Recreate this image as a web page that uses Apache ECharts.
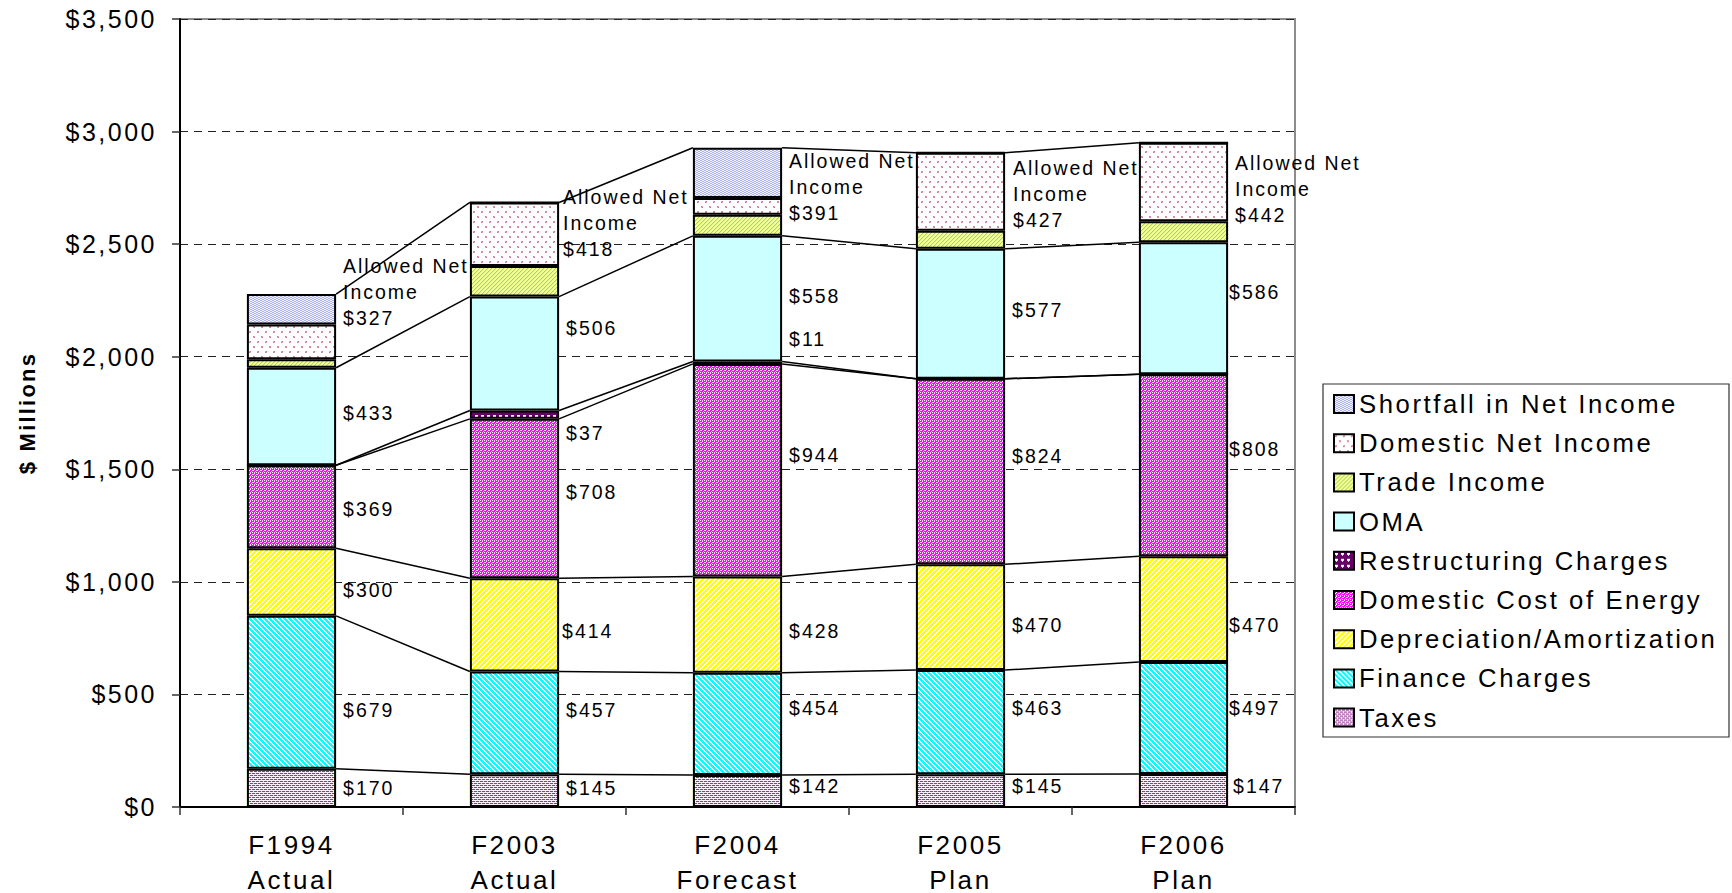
<!DOCTYPE html>
<html>
<head>
<meta charset="utf-8">
<title>Revenue Requirement Components</title>
<script src="https://cdn.jsdelivr.net/npm/echarts@6/dist/echarts.min.js"></script>
<style>
  html, body { margin: 0; padding: 0; background: #ffffff; }
  #chart { width: 1732px; height: 893px; }
  #chart svg text { letter-spacing: 0.1em; }
  #chart svg image { image-rendering: pixelated; }
</style>
</head>
<body>
<div id="chart"></div>
<script>
// ---- data ($ millions) ----
const categories = ['F1994\nActual', 'F2003\nActual', 'F2004\nForecast', 'F2005\nPlan', 'F2006\nPlan'];
const taxes = [170, 145, 142, 145, 147];
const financeCharges = [679, 457, 454, 463, 497];
const depreciation = [300, 414, 428, 470, 470];
const domesticCostOfEnergy = [369, 708, 944, 824, 808];
const restructuringCharges = [0, 37, 11, 0, 0];
const oma = [433, 506, 558, 577, 586];
const tradeIncome = [38, 136, 94, 80, 94];
const domesticNetIncome = [154, 282, 74, 347, 348];
const shortfallInNetIncome = [135, 0, 223, 0, 0];
const yAxisMax = 3500;
const yAxisStep = 500;

const FONT = "'Liberation Sans', Arial, Helvetica, sans-serif";

// ---- fill patterns ----
function tile(w, h, bg, paint) {
  const c = document.createElement('canvas');
  c.width = w; c.height = h;
  const ctx = c.getContext('2d');
  ctx.fillStyle = bg;
  ctx.fillRect(0, 0, w, h);
  for (let y = 0; y < h; y++) {
    for (let x = 0; x < w; x++) {
      const col = paint(x, y);
      if (col) { ctx.fillStyle = col; ctx.fillRect(x, y, 1, 1); }
    }
  }
  return { image: c, repeat: 'repeat', imageWidth: w, imageHeight: h };
}

function inSet(x, y, pts) {
  return pts.some(p => p[0] === x && p[1] === y);
}

const fills = {
  taxes: tile(4, 4, '#fbeefb', (x, y) =>
    (y === 1 && x < 3) || (y === 3 && x !== 1) ? '#993399' : null),
  finance: tile(5, 5, '#ffffff', (x, y) =>
    ((x - y + 10) % 5) < 3 ? '#00ffff' : null),
  depreciation: tile(5, 5, '#ffffff', (x, y) =>
    ((x + y) % 5) < 3 ? '#ffff00' : null),
  domCost: tile(4, 4, '#ff00ff', (x, y) => {
    if (inSet(x, y, [[0, 0], [2, 1], [1, 2], [3, 3]])) return '#ffffff';
    if (inSet(x, y, [[2, 0], [0, 2]])) return '#ffb8ff';
    return null;
  }),
  restructuring: tile(6, 6, '#660066', (x, y) =>
    (y >= 1 && y <= 2 && x >= 1 && x <= 3) || (y === 3 && x === 2) ? '#ffffff' : null),
  oma: '#ccffff',
  trade: tile(4, 4, '#f6ffa8', (x, y) => {
    const k = (x + y) % 4;
    return k === 3 ? '#b0d446' : (k === 0 ? '#e2f37e' : null);
  }),
  domNet: tile(8, 10, '#ffffff', (x, y) =>
    ((x === 1 || x === 2) && (y === 1 || y === 2)) || ((x === 5 || x === 6) && (y === 6 || y === 7))
      ? ((x + y) % 2 ? '#cc6f96' : '#e3a9c2') : null),
  shortfall: tile(4, 2, '#f2f2ff', (x, y) =>
    (y === 0 && x < 2) || (y === 1 && x >= 2) ? '#aeb3f2' : null)
};

// stack order, bottom to top
const stackSeries = [
  { name: 'Taxes', data: taxes, fill: fills.taxes, labelled: true },
  { name: 'Finance Charges', data: financeCharges, fill: fills.finance, labelled: true },
  { name: 'Depreciation/Amortization', data: depreciation, fill: fills.depreciation, labelled: true },
  { name: 'Domestic Cost of Energy', data: domesticCostOfEnergy, fill: fills.domCost, labelled: true },
  { name: 'Restructuring Charges', data: restructuringCharges, fill: fills.restructuring, labelled: true },
  { name: 'OMA', data: oma, fill: fills.oma, labelled: true },
  { name: 'Trade Income', data: tradeIncome, fill: fills.trade, labelled: false },
  { name: 'Domestic Net Income', data: domesticNetIncome, fill: fills.domNet, labelled: false },
  { name: 'Shortfall in Net Income', data: shortfallInNetIncome, fill: fills.shortfall, labelled: false }
];

// hand-placed value labels: [dx, dy] in px from the segment's right-middle
const labelShift = {
  'Taxes': [[0, 0], [0, -3], [0, -5], [0, -5], [-2, -4]],
  'Finance Charges': [[0, 18], [0, -13], [0, -16], [0, -14], [-6, -10]],
  'Depreciation/Amortization': [[0, 8], [-4, 6], [0, 6], [0, 8], [-6, 16]],
  'Domestic Cost of Energy': [[0, 2], [0, -7], [0, -15], [0, -16], [-6, -16]],
  'Restructuring Charges': [[0, 0], [0, 18], [0, -24], [0, 0], [0, 0]],
  'OMA': [[0, -3], [0, -26], [0, -3], [0, -4], [-6, -16]]
};
const allowedLabelShift = [[0, -39], [-3, -27], [0, -5], [1, -7], [0, -4]];

// series lines join the tops of these stack levels between neighbouring columns
const seriesLineLevels = [0, 1, 2, 3, 4, 5, 8];

function stackTop(level, i) {
  let s = 0;
  for (let k = 0; k <= level; k++) s += stackSeries[k].data[i];
  return s;
}
function allowedNetIncome(i) {
  return tradeIncome[i] + domesticNetIncome[i] + shortfallInNetIncome[i];
}

const BAR_RATIO = 0.4;

const barSeries = stackSeries.map(s => ({
  type: 'bar',
  name: s.name,
  stack: 'total',
  barWidth: (BAR_RATIO * 100) + '%',
  itemStyle: { color: s.fill, borderColor: '#000000', borderWidth: 2 },
  label: {
    show: s.labelled,
    position: 'right',
    distance: 7,
    color: '#000000',
    fontSize: 19.5,
    fontFamily: FONT,
    formatter: p => (p.value ? '$' + p.value : '')
  },
  emphasis: { disabled: true },
  z: 2,
  data: s.data.map((v, i) => {
    const item = { value: v };
    if (s.labelled && labelShift[s.name]) {
      item.label = { offset: labelShift[s.name][i] };
    }
    return item;
  })
}));

const seriesLines = {
  type: 'custom',
  name: 'series lines',
  z: 3,
  silent: true,
  data: categories.slice(0, -1).map((c, i) => [i, 0]),
  renderItem(params, api) {
    const i = api.value(0);
    const half = api.size([1, 0])[0] * BAR_RATIO / 2;
    return {
      type: 'group',
      children: seriesLineLevels.map(level => {
        const a = api.coord([i, stackTop(level, i)]);
        const b = api.coord([i + 1, stackTop(level, i + 1)]);
        return {
          type: 'line',
          shape: { x1: a[0] + half, y1: a[1], x2: b[0] - half, y2: b[1] },
          style: { stroke: '#000000', lineWidth: 1.5 }
        };
      })
    };
  }
};

const allowedLabels = {
  type: 'custom',
  name: 'allowed net income',
  z: 4,
  silent: true,
  data: categories.map((c, i) => [i, 0]),
  renderItem(params, api) {
    const i = api.value(0);
    const half = api.size([1, 0])[0] * BAR_RATIO / 2;
    const total = allowedNetIncome(i);
    const p = api.coord([i, stackTop(5, i) + total / 2]);
    const sh = allowedLabelShift[i];
    return {
      type: 'text',
      x: p[0] + half + 7 + sh[0],
      y: p[1] + sh[1],
      style: {
        text: 'Allowed Net\nIncome\n$' + total,
        fill: '#000000',
        fontSize: 19.5,
        fontFamily: FONT,
        lineHeight: 26,
        align: 'left',
        verticalAlign: 'middle'
      }
    };
  }
};

const chart = echarts.init(document.getElementById('chart'), null, { renderer: 'svg' });

chart.setOption({
  animation: false,
  backgroundColor: '#ffffff',
  textStyle: { fontFamily: FONT },
  grid: {
    left: 180, right: 437, top: 19, bottom: 86,
    show: true, borderColor: '#8c8c8c', borderWidth: 2,
    backgroundColor: 'transparent',
    containLabel: false,
    outerBoundsMode: 'none'
  },
  legend: {
    orient: 'vertical',
    left: 1333,
    top: 391,
    padding: 0,
    itemWidth: 20,
    itemHeight: 18,
    itemGap: 13.2,
    icon: 'rect',
    selectedMode: false,
    data: stackSeries.map(s => s.name).reverse(),
    itemStyle: { borderColor: '#000000', borderWidth: 2 },
    textStyle: { fontSize: 25.7, fontFamily: FONT, color: '#000000', lineHeight: 25.7 }
  },
  graphic: [{
    type: 'rect',
    z: -1,
    shape: { x: 1323, y: 384, width: 406, height: 353 },
    style: { fill: '#ffffff', stroke: '#333333', lineWidth: 1.2 }
  }],
  xAxis: {
    type: 'category',
    data: categories,
    axisLine: { show: true, lineStyle: { color: '#000000', width: 2 } },
    axisTick: { show: true, length: 8, alignWithLabel: false, lineStyle: { color: '#333333', width: 1.5 } },
    axisLabel: {
      interval: 0,
      margin: 20,
      color: '#000000',
      fontSize: 26,
      fontFamily: FONT,
      lineHeight: 35
    },
    splitLine: { show: false }
  },
  yAxis: {
    type: 'value',
    min: 0,
    max: yAxisMax,
    interval: yAxisStep,
    name: '$ Millions',
    nameLocation: 'middle',
    nameGap: 142,
    nameRotate: 90,
    nameTextStyle: { fontSize: 22, fontWeight: 'bold', color: '#000000', fontFamily: FONT },
    axisLine: { show: true, lineStyle: { color: '#000000', width: 2 } },
    axisTick: { show: true, length: 8, lineStyle: { color: '#333333', width: 1.5 } },
    axisLabel: {
      margin: 23,
      color: '#000000',
      fontSize: 25,
      fontFamily: FONT,
      formatter: v => '$' + v.toLocaleString('en-US')
    },
    splitLine: { show: true, lineStyle: { color: '#222222', width: 1, type: [8, 6] } }
  },
  series: [...barSeries, seriesLines, allowedLabels]
});
</script>
</body>
</html>
